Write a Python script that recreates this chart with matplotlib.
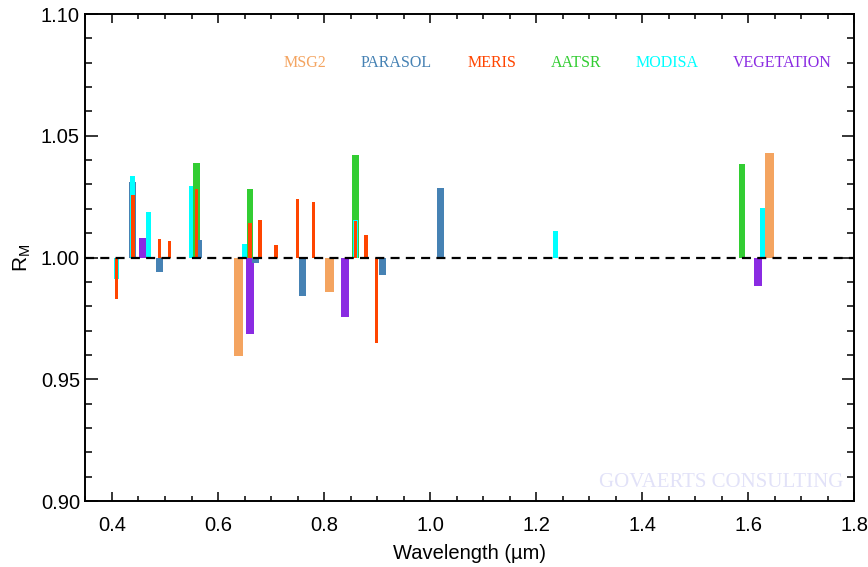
import matplotlib
matplotlib.use('Agg')
import matplotlib.pyplot as plt
from matplotlib.ticker import MultipleLocator, FormatStrFormatter

plt.rcParams['font.family'] = ['Liberation Sans', 'DejaVu Sans']
plt.rcParams['lines.scale_dashes'] = False

# ---------------- data ----------------
sensors = ['MSG2', 'PARASOL', 'MERIS', 'AATSR', 'MODISA', 'VEGETATION']
colors = {'MSG2': '#f4a460', 'PARASOL': '#4682b4', 'MERIS': '#ff4500',
          'AATSR': '#32cd32', 'MODISA': '#00ffff', 'VEGETATION': '#8a2be2'}

msg2_wl = [0.639, 0.8095, 1.640]
msg2_rm = [0.9595, 0.9858, 1.043]

parasol_wl = [0.4394, 0.489, 0.563, 0.670, 0.760, 0.910, 1.020]
parasol_rm = [1.031, 0.994, 1.0072, 0.9977, 0.984, 0.9929, 1.0284]

meris_wl = [0.409, 0.4394, 0.490, 0.509, 0.560, 0.6605, 0.679, 0.7095,
            0.750, 0.780, 0.859, 0.879, 0.899]
meris_rm = [0.983, 1.0256, 1.0075, 1.0068, 1.0281, 1.014, 1.0154, 1.0052,
            1.0239, 1.0229, 1.015, 1.0093, 0.965]

aatsr_wl = [0.5597, 0.6605, 0.859, 1.589]
aatsr_rm = [1.039, 1.0281, 1.042, 1.0382]

modisa_wl = [0.4088, 0.4394, 0.4695, 0.549, 0.650, 0.859, 1.2374, 1.628]
modisa_rm = [0.991, 1.0336, 1.0186, 1.0293, 1.0055, 1.0154, 1.0107, 1.0202]

veg_wl = [0.458, 0.6605, 0.8396, 1.619]
veg_rm = [1.008, 0.9686, 0.9756, 0.9885]

series = {
    'MSG2': (msg2_wl, msg2_rm, 0.017),
    'AATSR': (aatsr_wl, aatsr_rm, 0.0123),
    'VEGETATION': (veg_wl, veg_rm, 0.0157),
    'PARASOL': (parasol_wl, parasol_rm, 0.013),
    'MODISA': (modisa_wl, modisa_rm, 0.0092),
    'MERIS': (meris_wl, meris_rm, 0.0062),
}
draw_order = ['MSG2', 'AATSR', 'VEGETATION', 'PARASOL', 'MODISA', 'MERIS']

legend_x = [0.2856, 0.4046, 0.5284, 0.6381, 0.7572, 0.9062]

# ---------------- figure ----------------
fig = plt.figure(figsize=(8.68, 5.67), dpi=100)
ax = fig.add_axes([0.0985, 0.1164, 0.8854, 0.8589])

for i, name in enumerate(draw_order):
    wl, rm, w = series[name]
    ax.bar(wl, [v - 1.0 for v in rm], bottom=1.0, width=w,
           color=colors[name], linewidth=0, zorder=2 + i)

ax.axhline(1.0, color='black', lw=1.6, dashes=(6.5, 4.5), zorder=20)

ax.set_xlim(0.35, 1.8)
ax.set_ylim(0.9, 1.1)
ax.xaxis.set_major_locator(MultipleLocator(0.2))
ax.xaxis.set_minor_locator(MultipleLocator(0.05))
ax.yaxis.set_major_locator(MultipleLocator(0.05))
ax.yaxis.set_minor_locator(MultipleLocator(0.01))
ax.xaxis.set_major_formatter(FormatStrFormatter('%.1f'))
ax.yaxis.set_major_formatter(FormatStrFormatter('%.2f'))

ax.tick_params(which='both', direction='in', top=True, right=True,
               width=1.1, colors='black', labelsize=14.5)
ax.tick_params(axis='x', which='major', length=6.5, pad=11)
ax.tick_params(axis='x', which='minor', length=3.4)
ax.tick_params(axis='y', which='major', length=9, pad=4)
ax.tick_params(axis='y', which='minor', length=4.8)

for sp in ax.spines.values():
    sp.set_linewidth(1.4)

ax.set_xlabel('Wavelength (\u00b5m)', fontsize=14.5, va='center')
ax.xaxis.set_label_coords(0.5, -0.107)
ax.set_ylabel(r'R$_\mathregular{M}$', fontsize=15, va='center')
ax.yaxis.set_label_coords(-0.082, 0.5)

for name, lx in zip(sensors, legend_x):
    ax.text(lx, 0.8994, name, transform=ax.transAxes, ha='center', va='center',
            color=colors[name], fontsize=11.5, family='Liberation Serif')

ax.text(0.8276, 0.039, 'GOVAERTS CONSULTING', transform=ax.transAxes,
        ha='center', va='center', color='#e2e2f8', fontsize=15,
        family='Liberation Serif', zorder=1)

fig.savefig('out.png', dpi=100)
